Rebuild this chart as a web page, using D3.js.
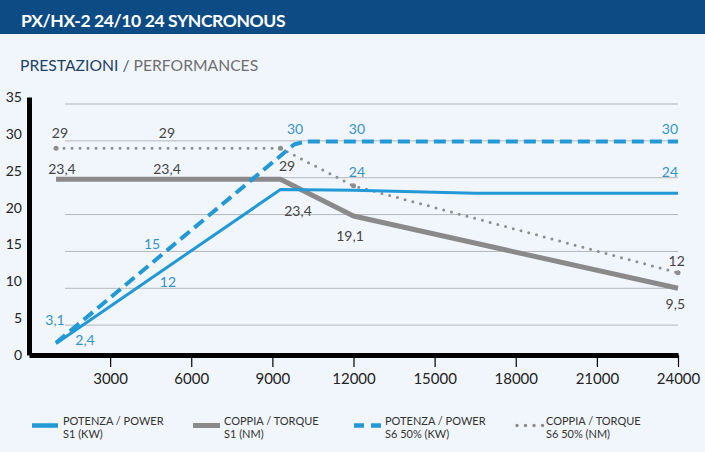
<!DOCTYPE html>
<html>
<head>
<meta charset="utf-8">
<script src="https://cdn.jsdelivr.net/npm/d3@7"></script>
<style>
  body { margin: 0; background: #f1f6fc; }
  text { font-family: Lato, "Open Sans", sans-serif; }
</style>
</head>
<body>
<div id="chart"></div>
<script>
// rpm on x, kW / Nm on y
var xTicks = [3000, 6000, 9000, 12000, 15000, 18000, 21000, 24000];
var yTicks = [0, 5, 10, 15, 20, 25, 30, 35];

var powerS1  = [[1000, 2.5], [9300, 23.4], [12000, 23.3], [16500, 22.9], [24000, 22.9]];
var torqueS1 = [[1000, 24.8], [9300, 24.8], [12000, 19.8], [24000, 10.0]];
var powerS6  = [[1000, 2.6], [9800, 29.5], [10200, 29.9], [24000, 29.9]];
var torqueS6 = [[1000, 29.0], [9300, 29.0], [12000, 23.9], [24000, 12.1]];

// value labels as printed on the chart: [rpm, value, text]
var powerLabels = [[961, 5.7, "3,1"], [2071, 3.0, "2,4"], [4549, 16.1, "15"], [5140, 10.9, "12"],
                   [9837, 31.7, "30"], [12129, 31.7, "30"], [23704, 31.7, "30"],
                   [12129, 25.8, "24"], [23704, 25.8, "24"]];
var torqueLabels = [[1146, 31.1, "29"], [5103, 31.1, "29"], [1220, 26.3, "23,4"], [5103, 26.3, "23,4"],
                    [9541, 26.7, "29"], [9948, 20.6, "23,4"], [11871, 17.2, "19,1"],
                    [23950, 13.8, "12"], [23900, 7.9, "9,5"]];

var legendTitles = ["POTENZA / POWER", "COPPIA / TORQUE", "POTENZA / POWER", "COPPIA / TORQUE"];
var legendUnits  = ["S1 (KW)", "S1 (NM)", "S6 50% (KW)", "S6 50% (NM)"];

var blue = "#2299d5", grey = "#8a8a8a";
var blueText = "#3592c6", greyText = "#444";

var svg = d3.select("#chart").append("svg").attr("width", 705).attr("height", 452);

// header
svg.append("rect").attr("x", 0).attr("y", 0).attr("width", 705).attr("height", 34).attr("fill", "#0d4b85");
svg.append("text").attr("x", 21).attr("y", 26.5).attr("fill", "#fff")
  .attr("font-size", 17.5).attr("font-weight", "bold").attr("letter-spacing", -0.4)
  .text("PX/HX-2 24/10 24 SYNCRONOUS");

var sub = svg.append("text").attr("x", 20).attr("y", 70.5).attr("font-size", 15.7);
sub.append("tspan").attr("fill", "#1d416a").text("PRESTAZIONI ");
sub.append("tspan").attr("fill", "#3d5878").text("/ ");
sub.append("tspan").attr("fill", "#6f6f6f").text("PERFORMANCES");

var x = d3.scaleLinear().domain([0, 24000]).range([29, 678]);
var y = d3.scaleLinear().domain([0, 35]).range([362, 104]);

// grid
svg.append("g").selectAll("line").data(yTicks.slice(1)).enter().append("line")
  .attr("x1", 65).attr("x2", 678)
  .attr("y1", function(d){ return y(d); }).attr("y2", function(d){ return y(d); })
  .attr("stroke", "#b4b7bb").attr("stroke-width", 1);

// axes
var xAxis = svg.append("g").attr("transform", "translate(0,355)")
  .call(d3.axisBottom(x).tickValues(xTicks).tickSizeInner(12).tickSizeOuter(0).tickPadding(6).tickFormat(d3.format("d")));
xAxis.select(".domain").attr("stroke", "#000").attr("stroke-width", 5);
xAxis.selectAll(".tick line").attr("stroke", "#000").attr("stroke-width", 1.2);
xAxis.selectAll(".tick text").attr("font-size", 15).attr("fill", "#222").attr("font-family", "Lato, sans-serif");

var yAxis = svg.append("g").attr("transform", "translate(29,-7)")
  .call(d3.axisLeft(y).tickValues(yTicks).tickSize(0).tickPadding(7));
yAxis.select(".domain").attr("stroke", "#000").attr("stroke-width", 5);
yAxis.selectAll(".tick text").attr("font-size", 14).attr("fill", "#222").attr("font-family", "Lato, sans-serif");

// series
var line = d3.line().x(function(d){ return x(d[0]); }).y(function(d){ return y(d[1]); });

function drawSeries(data, color, width, dash, cap) {
  return svg.append("path").datum(data).attr("d", line)
    .attr("fill", "none").attr("stroke", color).attr("stroke-width", width)
    .attr("stroke-dasharray", dash).attr("stroke-linecap", cap || "butt")
    .attr("stroke-linejoin", "round");
}

drawSeries(torqueS1, grey, 5, null);
drawSeries(torqueS6, "#8d8d8d", 3, "0,8", "round");
svg.append("g").selectAll("circle").data(torqueS6).enter().append("circle")
  .attr("cx", function(d){ return x(d[0]); }).attr("cy", function(d){ return y(d[1]); })
  .attr("r", 2.5).attr("fill", "#8d8d8d");
drawSeries(powerS1, blue, 3, null);
drawSeries(powerS6, blue, 4, "12,6");

// value labels
function drawLabels(data, color) {
  svg.append("g").selectAll("text").data(data).enter().append("text")
    .attr("x", function(d){ return x(d[0]); }).attr("y", function(d){ return y(d[1]); })
    .attr("text-anchor", "middle").attr("dominant-baseline", "central")
    .attr("font-size", 14).attr("fill", color)
    .text(function(d){ return d[2]; });
}
drawLabels(powerLabels, blueText);
drawLabels(torqueLabels, greyText);

// legend
var legend = svg.append("g").selectAll("g").data(legendTitles).enter().append("g")
  .attr("transform", function(d, i){ return "translate(" + (32 + i * 161) + ",0)"; });

legend.each(function(d, i) {
  var g = d3.select(this);
  if (i == 0) g.append("line").attr("x1", 0).attr("x2", 26).attr("y1", 425.5).attr("y2", 425.5).attr("stroke", blue).attr("stroke-width", 4.5);
  if (i == 1) g.append("line").attr("x1", 0).attr("x2", 27).attr("y1", 425.5).attr("y2", 425.5).attr("stroke", grey).attr("stroke-width", 5);
  if (i == 2) g.append("line").attr("x1", 0).attr("x2", 27).attr("y1", 425.5).attr("y2", 425.5).attr("stroke", blue).attr("stroke-width", 4.5).attr("stroke-dasharray", "10,7");
  if (i == 3) g.append("line").attr("x1", 2).attr("x2", 30).attr("y1", 425.5).attr("y2", 425.5).attr("stroke", "#8d8d8d").attr("stroke-width", 3.5).attr("stroke-dasharray", "0,8.5").attr("stroke-linecap", "round");
  var t = g.append("text").attr("x", 31).attr("font-size", 11).attr("fill", "#333");
  t.append("tspan").attr("x", 31).attr("y", 424.5).text(d);
  t.append("tspan").attr("x", 31).attr("y", 437.5).text(legendUnits[i]);
});
</script>
</body>
</html>
